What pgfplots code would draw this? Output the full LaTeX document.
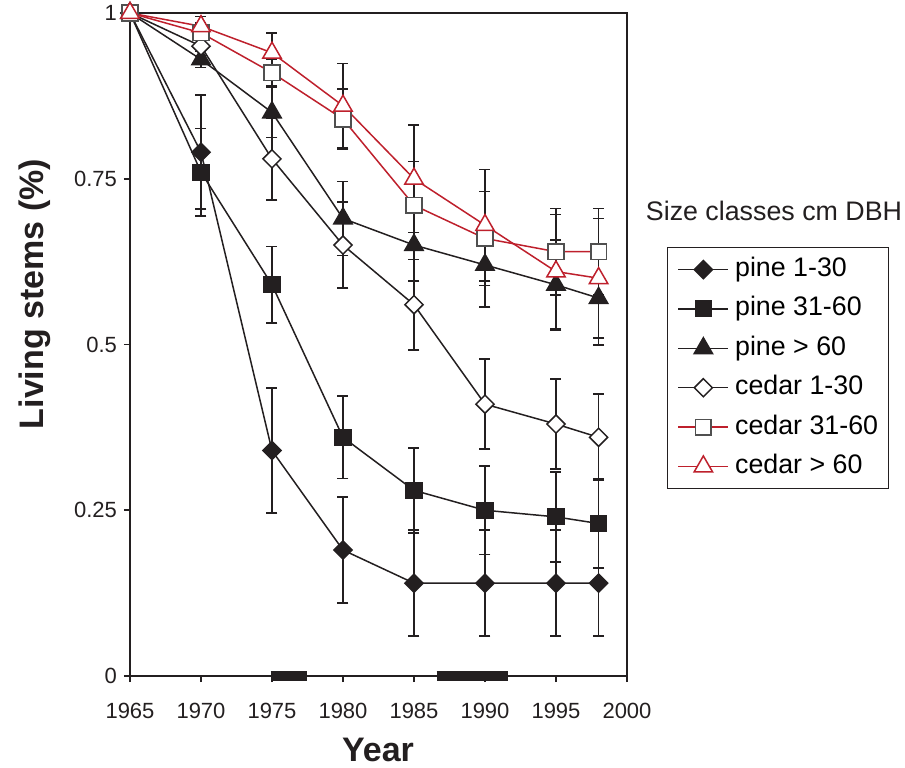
\documentclass[border=0pt]{standalone}
\usepackage{fontspec}
\setmainfont{Liberation Sans}
\usepackage{pgfplots}
\pgfplotsset{compat=1.18}
\definecolor{cInk}{RGB}{35,31,32}
\definecolor{cRed}{RGB}{190,32,44}
\definecolor{cGrey}{RGB}{80,80,80}

\begin{document}
\begin{tikzpicture}
% page = 905x767 px at 0.5pt/px, axis box starts at the origin
\path[use as bounding box] (-65pt,-45.5pt) rectangle (387.5pt,338pt);
\begin{axis}[
    scale only axis,
    width=248.5pt, height=331.5pt,
    xmin=1965, xmax=2000, ymin=0, ymax=1,
    enlargelimits=false,
    clip=false,
    xtick={1965,1970,1975,1980,1985,1990,1995,2000},
    xticklabels={1965,1970,1975,1980,1985,1990,1995,2000},
    ytick={0,0.25,0.5,0.75,1},
    yticklabels={0,0.25,0.5,0.75,1},
    xtick pos=left, ytick pos=left,
    tick align=outside,
    major tick length=3pt,
    tick style={cInk, line width=0.8pt},
    axis line style={cInk, line width=1pt},
    tick label style={font=\fontsize{11}{13}\selectfont, text=cInk},
    xticklabel style={yshift=-7pt},
    xlabel={Year},
    ylabel={Living stems (\%)},
    label style={font=\fontsize{17}{20}\selectfont\bfseries, text=cInk},
    xlabel style={at={(axis description cs:0.499,-0.112)}, anchor=center},
    ylabel style={at={(axis description cs:-0.191,0.576)}, anchor=center},
    legend style={at={(axis description cs:1.0805,0.647)}, anchor=north west,
        draw=cInk, line width=0.6pt, fill=white,
        inner xsep=5pt, inner ysep=4.8pt, row sep=7.4pt,
        font=\fontsize{13.4}{16}\selectfont,
        nodes={inner sep=0pt, text height=9.6pt, text depth=2.7pt},
        /tikz/every odd column/.append style={column sep=3pt}},
    legend cell align=left,
    legend image code/.code={\draw[mark repeat=2,mark phase=2,#1]
        plot coordinates {(0pt,0pt) (12.5pt,0pt) (25pt,0pt)};},
    every axis plot/.append style={line width=0.75pt},
    error bars/y dir=both,
    error bars/y explicit,
    error bars/error bar style={cInk, line width=0.8pt},
    error bars/error mark options={cInk, line width=0.8pt, mark size=2.75pt, rotate=90},
]

% dark bars on the time axis
\addplot[cInk, line width=5pt, forget plot, error bars/y dir=none] coordinates {(1974.9,0) (1977.5,0)};
\addplot[cInk, line width=5pt, forget plot, error bars/y dir=none] coordinates {(1986.6,0) (1991.6,0)};

% pine 1-30
\addplot[cInk, mark=square*, mark options={rotate=45, mark size=3.2pt, fill=cInk, draw=cInk}]
coordinates {
    (1965,1) +- (0,0) (1970,0.79) +- (0,0.086) (1975,0.34) +- (0,0.094)
    (1980,0.19) +- (0,0.08) (1985,0.14) +- (0,0.08) (1990,0.14) +- (0,0.08)
    (1995,0.14) +- (0,0.08) (1998,0.14) +- (0,0.08)
};
\addlegendentry{pine 1-30}

% pine 31-60
\addplot[cInk, mark=square*, mark options={mark size=3.9pt, fill=cInk, draw=cInk}]
coordinates {
    (1965,1) +- (0,0) (1970,0.76) +- (0,0.066) (1975,0.59) +- (0,0.058)
    (1980,0.36) +- (0,0.062) (1985,0.28) +- (0,0.064) (1990,0.25) +- (0,0.067)
    (1995,0.24) +- (0,0.068) (1998,0.23) +- (0,0.067)
};
\addlegendentry{pine 31-60}

% pine > 60
\addplot[cInk, mark=triangle*, mark options={mark size=5.3pt, fill=cInk, draw=cInk}]
coordinates {
    (1965,1) +- (0,0) (1970,0.93) +- (0,0.012) (1975,0.85) +- (0,0.038)
    (1980,0.69) +- (0,0.056) (1985,0.65) +- (0,0.054) (1990,0.62) +- (0,0.063)
    (1995,0.59) +- (0,0.068) (1998,0.57) +- (0,0.071)
};
\addlegendentry{pine > 60}

% cedar 1-30
\addplot[cInk, mark=square*, mark options={rotate=45, mark size=3.2pt, fill=white, draw=cInk}]
coordinates {
    (1965,1) +- (0,0) (1970,0.95) +- (0,0.015) (1975,0.78) +- (0,0.062)
    (1980,0.65) +- (0,0.065) (1985,0.56) +- (0,0.068) (1990,0.41) +- (0,0.068)
    (1995,0.38) +- (0,0.068) (1998,0.36) +- (0,0.065)
};
\addlegendentry{cedar 1-30}

% cedar 31-60
\addplot[cRed, mark=square*, mark options={mark size=3.9pt, fill=white, draw=cGrey}]
coordinates {
    (1965,1) +- (0,0) (1970,0.97) +- (0,0.015) (1975,0.91) +- (0,0.02)
    (1980,0.84) +- (0,0.045) (1985,0.71) +- (0,0.066) (1990,0.66) +- (0,0.071)
    (1995,0.64) +- (0,0.065) (1998,0.64) +- (0,0.065)
};
\addlegendentry{cedar 31-60}

% cedar > 60
\addplot[cRed, mark=triangle*, mark options={mark size=5.3pt, fill=white, draw=cRed}]
coordinates {
    (1965,1) +- (0,0) (1970,0.98) +- (0,0.015) (1975,0.94) +- (0,0.03)
    (1980,0.86) +- (0,0.064) (1985,0.75) +- (0,0.081) (1990,0.68) +- (0,0.084)
    (1995,0.61) +- (0,0.086) (1998,0.60) +- (0,0.09)
};
\addlegendentry{cedar > 60}

\node[font=\fontsize{13.4}{16}\selectfont, text=cInk] at (axis description cs:1.2958,0.7014) {Size classes cm DBH};
\end{axis}
\end{tikzpicture}
\end{document}
